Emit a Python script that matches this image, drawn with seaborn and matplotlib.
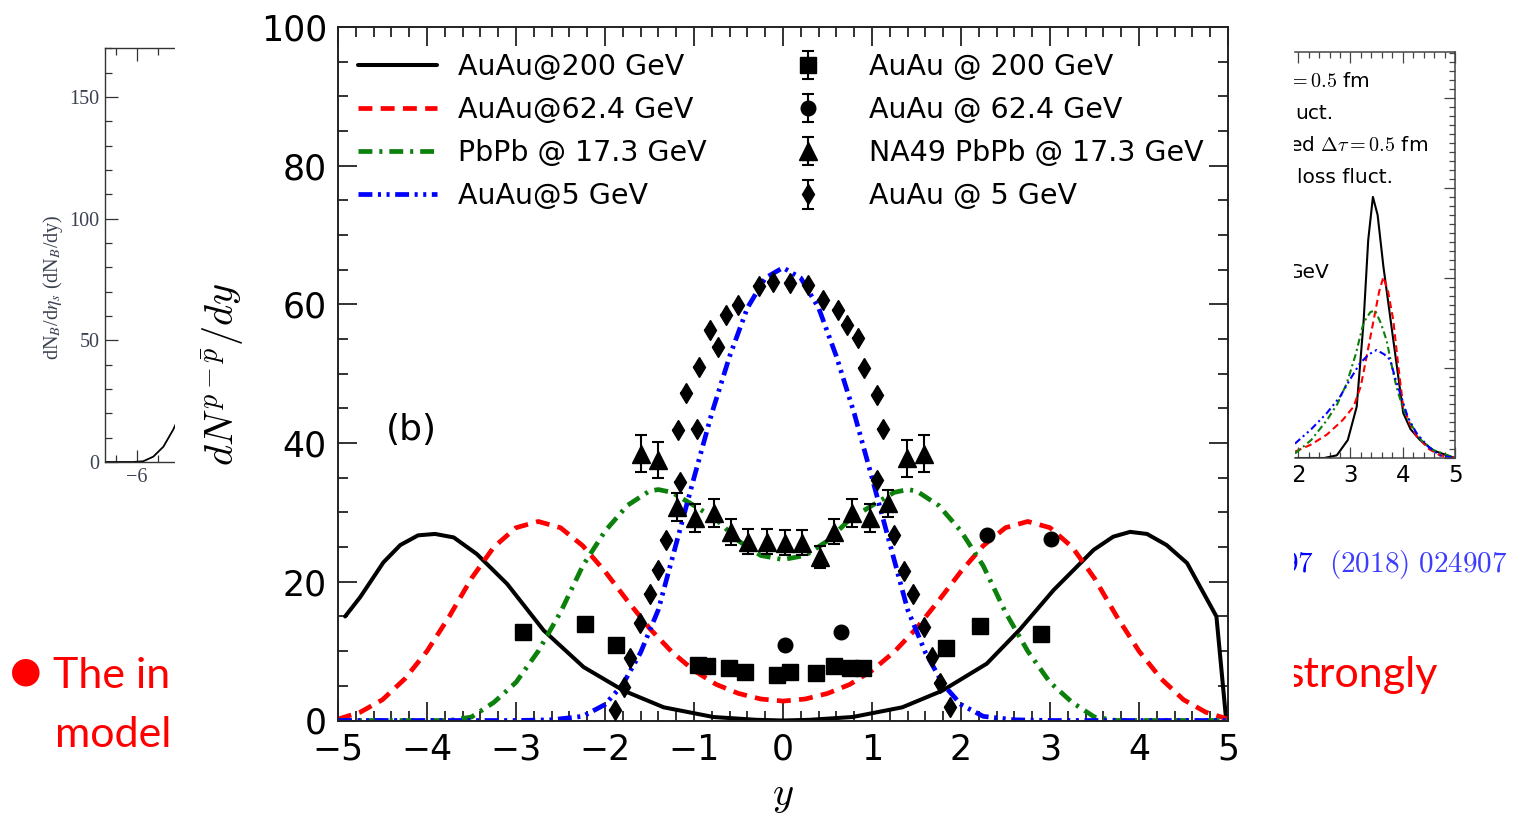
import matplotlib
matplotlib.use("Agg")
import matplotlib.pyplot as plt
from matplotlib.ticker import MultipleLocator
from matplotlib.patches import Rectangle
import seaborn as sns

# ---------------- main panel: model curves ----------------
x_au200 = [-4.92, -4.75, -4.49, -4.30, -4.10, -3.91, -3.70, -3.44, -3.10, -2.69, -2.24, -1.79, -1.34, -0.78, -0.30, 0.0,
           0.30, 0.78, 1.34, 1.79, 2.29, 2.66, 3.04, 3.49, 3.71, 3.90, 4.09, 4.31, 4.54, 4.87, 4.98]
y_au200 = [15.0, 17.8, 22.8, 25.3, 26.7, 26.9, 26.4, 24.0, 19.7, 13.0, 7.7, 4.3, 1.9, 0.5, 0.1, 0.0,
           0.1, 0.5, 1.9, 4.3, 8.2, 13.1, 18.8, 24.6, 26.5, 27.2, 26.9, 25.3, 22.7, 15.0, 0.0]

x_au62 = [-5.0, -4.75, -4.5, -4.25, -4.0, -3.75, -3.5, -3.25, -3.0, -2.75, -2.5, -2.25, -2.0, -1.75, -1.5, -1.25,
          -1.0, -0.75, -0.5, -0.25, 0.0, 0.25, 0.5, 0.75, 1.0, 1.25, 1.5, 1.75, 2.0, 2.25, 2.5, 2.75, 3.0, 3.25,
          3.5, 3.75, 4.0, 4.25, 4.5, 4.75, 5.0]
y_au62 = [0.2, 1.2, 3.0, 6.0, 10.0, 15.0, 20.5, 25.0, 27.8, 28.7, 27.8, 25.2, 21.5, 17.3, 13.3, 9.9,
          7.2, 5.2, 3.9, 3.1, 2.8, 3.1, 3.9, 5.2, 7.2, 9.9, 13.3, 17.3, 21.5, 25.2, 27.8, 28.7, 27.8, 25.0,
          20.5, 15.0, 10.0, 6.0, 3.0, 1.2, 0.2]

x_pb17 = [-5.0, -4.0, -3.75, -3.5, -3.25, -3.0, -2.75, -2.5, -2.25, -2.0, -1.75, -1.5, -1.4, -1.25, -1.0, -0.75,
          -0.5, -0.25, 0.0, 0.25, 0.5, 0.75, 1.0, 1.25, 1.4, 1.5, 1.75, 2.0, 2.25, 2.5, 2.75, 3.0, 3.25, 3.5,
          3.75, 4.0, 5.0]
y_pb17 = [0.0, 0.0, 0.0, 0.5, 2.6, 5.5, 10.0, 15.6, 22.3, 27.3, 31.0, 33.1, 33.3, 32.9, 31.0, 29.0,
          25.9, 23.8, 23.2, 23.8, 25.9, 29.0, 31.0, 32.9, 33.3, 33.1, 31.0, 27.3, 22.3, 15.6, 10.0, 5.5, 2.6, 0.5,
          0.0, 0.0, 0.0]

x_au5 = [-5.0, -3.0, -2.6, -2.25, -2.0, -1.8, -1.6, -1.4, -1.2, -1.0, -0.8, -0.6, -0.4, -0.2, 0.0,
         0.2, 0.4, 0.6, 0.8, 1.0, 1.2, 1.4, 1.6, 1.8, 2.0, 2.25, 2.6, 3.0, 5.0]
y_au5 = [0.0, 0.0, 0.1, 0.6, 2.3, 5.2, 9.8, 16.0, 25.5, 35.0, 44.3, 52.5, 59.5, 63.8, 65.3,
         63.8, 59.5, 52.5, 44.3, 35.0, 25.5, 16.0, 9.8, 5.2, 2.3, 0.6, 0.1, 0.0, 0.0]

# ---------------- main panel: data points ----------------
xd_au200 = [-2.92, -2.22, -1.88, -0.95, -0.85, -0.61, -0.43, -0.07, 0.08, 0.37, 0.57, 0.75, 0.90, 1.83, 2.21, 2.90]
yd_au200 = [12.7, 13.9, 10.9, 8.0, 7.9, 7.5, 7.0, 6.6, 7.0, 6.8, 7.8, 7.6, 7.6, 10.4, 13.6, 12.5]
ed_au200 = [0.0] * 16

xd_au62 = [0.02, 0.65, 2.29, 3.01]
yd_au62 = [10.9, 12.7, 26.8, 26.2]
ed_au62 = [0.0] * 4

xd_na49 = [-1.59, -1.40, -1.19, -0.99, -0.78, -0.58, -0.39, -0.18, 0.02, 0.21, 0.42, 0.57, 0.77, 0.98, 1.18, 1.39, 1.58]
yd_na49 = [38.5, 37.6, 30.8, 29.2, 29.9, 27.2, 25.8, 25.8, 25.6, 25.6, 23.6, 27.2, 29.9, 29.2, 31.3, 37.8, 38.5]
ed_na49 = [2.6, 2.6, 2.0, 2.0, 2.0, 1.9, 1.8, 1.8, 1.8, 1.8, 1.6, 1.8, 2.0, 2.0, 2.0, 2.7, 2.6]

xd_au5 = [-1.89, -1.79, -1.72, -1.61, -1.49, -1.40, -1.31, -1.18, -1.16, -1.09, -0.97, -0.94, -0.82, -0.73, -0.64,
          -0.51, -0.27, -0.11, 0.08, 0.28, 0.45, 0.62, 0.72, 0.84, 0.91, 1.06, 1.06, 1.12, 1.25, 1.36, 1.46, 1.58,
          1.67, 1.76, 1.88]
yd_au5 = [1.5, 4.9, 9.0, 14.0, 18.3, 21.7, 26.0, 41.9, 34.4, 47.2, 42.1, 51.0, 56.3, 53.9, 58.5,
          59.9, 62.6, 63.3, 63.1, 62.8, 60.7, 59.2, 57.0, 55.1, 50.9, 46.9, 34.7, 42.0, 26.8, 21.5, 18.2, 13.5,
          9.2, 5.4, 2.0]
ed_au5 = [0.0] * len(xd_au5)

line_labels = ["AuAu@200 GeV", "AuAu@62.4 GeV", "PbPb @ 17.3 GeV", "AuAu@5 GeV"]
data_labels = ["AuAu @ 200 GeV", "AuAu @ 62.4 GeV", "NA49 PbPb @ 17.3 GeV", "AuAu @ 5 GeV"]

# ---------------- side panels (partly hidden) ----------------
left_x = [-6.76, -6.3, -6.09, -5.85, -5.61, -5.37, -5.14, -5.05]
left_y = [0.0, 0.0, 0.0, 0.3, 2.2, 6.3, 13.2, 16.5]

r_black_x = [1.94, 2.5, 2.74, 2.95, 3.12, 3.25, 3.34, 3.43, 3.52, 3.63, 3.82, 4.01, 4.15, 4.33, 4.6, 5.0]
r_black_y = [0.0, 0.0, 0.03, 0.2, 0.57, 1.5, 2.42, 2.9, 2.7, 2.13, 1.31, 0.5, 0.32, 0.2, 0.08, 0.0]
r_red_x = [1.94, 2.25, 2.55, 2.85, 3.06, 3.2, 3.31, 3.45, 3.55, 3.63, 3.72, 3.82, 3.92, 4.01, 4.15, 4.27, 4.5, 4.71, 5.0]
r_red_y = [0.07, 0.15, 0.26, 0.42, 0.57, 0.8, 1.13, 1.55, 1.85, 2.01, 1.85, 1.53, 1.0, 0.57, 0.36, 0.24, 0.1, 0.03, 0.0]
r_green_x = [1.94, 2.25, 2.55, 2.75, 2.93, 3.1, 3.25, 3.38, 3.47, 3.58, 3.69, 3.8, 3.88, 4.0, 4.14, 4.35, 4.58, 5.0]
r_green_y = [0.05, 0.2, 0.42, 0.6, 0.83, 1.15, 1.5, 1.62, 1.64, 1.5, 1.31, 1.0, 0.79, 0.56, 0.39, 0.2, 0.09, 0.0]
r_blue_x = [1.94, 2.25, 2.55, 2.8, 2.99, 3.18, 3.35, 3.5, 3.65, 3.76, 3.85, 3.95, 4.1, 4.27, 4.5, 4.71, 5.0]
r_blue_y = [0.16, 0.32, 0.5, 0.68, 0.87, 1.05, 1.15, 1.2, 1.15, 1.09, 0.9, 0.72, 0.45, 0.27, 0.12, 0.03, 0.0]

sns.set_style("ticks")
plt.rcParams["font.family"] = ["DejaVu Sans"]
plt.rcParams["lines.scale_dashes"] = False
plt.rcParams["axes.unicode_minus"] = True
for k in ["text.color", "axes.labelcolor", "xtick.color", "ytick.color", "axes.edgecolor"]:
    plt.rcParams[k] = "black"

W, H = 1518, 816
fig = plt.figure(figsize=(W / 100, H / 100), dpi=100)
fig.patch.set_facecolor("white")


def fx(px):
    return px / W


def fy(py):
    return 1 - py / H


RED = "#ff0000"
GREEN = "#0b800b"
BLUE = "#0000ff"
SIDE = "#3a4150"

# ---------- left partial panel ----------
axL = fig.add_axes([fx(105), fy(462), (176 - 105) / W, (462 - 48) / H], zorder=0)
sns.lineplot(x=left_x, y=left_y, ax=axL, color="black", linewidth=1.3, errorbar=None)
axL.set_xlim(-6.76, -5.07)
axL.set_ylim(0, 170.2)
axL.spines["right"].set_visible(False)
for s in ["left", "top", "bottom"]:
    axL.spines[s].set_linewidth(1.0)
    axL.spines[s].set_color("#333333")
axL.xaxis.set_major_locator(MultipleLocator(1))
axL.xaxis.set_minor_locator(MultipleLocator(0.5))
axL.yaxis.set_major_locator(MultipleLocator(50))
axL.yaxis.set_minor_locator(MultipleLocator(10))
axL.tick_params(which="both", direction="in", top=True, right=False, color="#333333", width=0.9,
                labelsize=14.5, labelcolor=SIDE, labelfontfamily="Liberation Serif", pad=4)
axL.tick_params(which="major", length=9)
axL.tick_params(which="minor", length=5)
axL.set_ylabel(r"dN$_B$/d$\eta_s$ (dN$_B$/dy)", fontsize=14.5, color=SIDE,
               fontfamily="Liberation Serif", math_fontfamily="stix")
axL.yaxis.set_label_coords(-0.56, 0.423)
axL.set_xlabel("")

# ---------- right partial panel ----------
axR = fig.add_axes([fx(1295), fy(458), (1455 - 1295) / W, (458 - 52) / H], zorder=0)
sns.lineplot(x=r_black_x, y=r_black_y, ax=axR, color="black", linewidth=1.5, errorbar=None)
sns.lineplot(x=r_red_x, y=r_red_y, ax=axR, color=RED, linewidth=1.5, errorbar=None, linestyle=(0, (5, 3)))
sns.lineplot(x=r_green_x, y=r_green_y, ax=axR, color=GREEN, linewidth=1.5, errorbar=None,
             linestyle=(0, (5, 2.5, 1.5, 2.5)))
sns.lineplot(x=r_blue_x, y=r_blue_y, ax=axR, color=BLUE, linewidth=1.5, errorbar=None,
             linestyle=(0, (5, 2.5, 1.5, 2.5, 1.5, 2.5)))
axR.set_xlim(1.94, 5.0)
axR.set_ylim(0, 4.51)
axR.spines["left"].set_visible(False)
for s in ["right", "top", "bottom"]:
    axR.spines[s].set_linewidth(1.1)
    axR.spines[s].set_color("#444444")
axR.xaxis.set_major_locator(MultipleLocator(1))
axR.xaxis.set_minor_locator(MultipleLocator(0.2))
axR.yaxis.set_major_locator(MultipleLocator(1))
axR.yaxis.set_minor_locator(MultipleLocator(0.1))
axR.tick_params(which="both", direction="in", top=True, right=True, left=False, labelleft=False,
                color="#444444", width=0.9, labelsize=16.5, pad=4)
axR.tick_params(which="major", length=8)
axR.tick_params(which="minor", length=4)
axR.set_xlabel("")
axR.set_ylabel("")

# fragments of the right panel legend
for txt, px, py in [(r"$=0.5$ fm", 1288, 87), ("uct.", 1295, 119), (r"ed $\Delta\tau=0.5$ fm", 1289, 151),
                    ("loss fluct.", 1297, 183), ("GeV", 1288, 278)]:
    fig.text(fx(px), fy(py), txt, fontsize=14.5, va="baseline", ha="left", math_fontfamily="cm", zorder=0.3)

# slide text fragments
fig.text(fx(26), fy(672), "\u25cf", fontsize=26, color=RED, ha="center", va="center",
         family=["DejaVu Sans"], zorder=0.3)
fig.text(fx(53), fy(688), "The in", fontsize=31, color=RED, family=["Lato", "DejaVu Sans"],
         va="baseline", zorder=0.3)
fig.text(fx(55), fy(747), "model", fontsize=31, color=RED, family=["Lato", "DejaVu Sans"],
         va="baseline", zorder=0.3)
fig.text(fx(1286), fy(687), "strongly", fontsize=31, color=RED, family=["Lato", "DejaVu Sans"],
         va="baseline", zorder=0.3)
fig.text(fx(1314), fy(572), r"$\mathbf{97}$", fontsize=21, color=BLUE, ha="right", va="baseline",
         math_fontfamily="cm", zorder=0.3)
fig.text(fx(1508), fy(572), r"$\mathrm{(2018)\ 024907}$", fontsize=21, color="#3c3cff", ha="right",
         va="baseline", math_fontfamily="cm", zorder=0.3)

# white backdrop of the central chart
fig.add_artist(Rectangle((fx(175), 0), (1294 - 175) / W, 1, transform=fig.transFigure,
                         facecolor="white", edgecolor="none", zorder=0.5))

# ---------- main panel ----------
ax = fig.add_axes([fx(338), fy(720.5), 890 / W, 693.5 / H], zorder=2)
ax.set_facecolor("white")

sns.lineplot(x=x_au200, y=y_au200, ax=ax, color="black", linewidth=2.9, errorbar=None, sort=False)
sns.lineplot(x=x_au62, y=y_au62, ax=ax, color=RED, linewidth=3.4, errorbar=None, sort=False,
             linestyle=(0, (10, 6)))
sns.lineplot(x=x_pb17, y=y_pb17, ax=ax, color=GREEN, linewidth=3.4, errorbar=None, sort=False,
             linestyle=(0, (10, 5, 2.2, 5)))
sns.lineplot(x=x_au5, y=y_au5, ax=ax, color=BLUE, linewidth=3.4, errorbar=None, sort=False,
             linestyle=(0, (10, 4, 2.2, 4, 2.2, 4)))
line_handles = list(ax.lines[:4])

eb_kw = dict(color="black", ecolor="black", elinewidth=1.5, capsize=4.5, capthick=1.5, linestyle="none", zorder=4)
h1 = ax.errorbar(xd_au200, yd_au200, yerr=ed_au200, fmt="s", ms=11, **eb_kw)
h2 = ax.errorbar(xd_au62, yd_au62, yerr=ed_au62, fmt="o", ms=10.5, **eb_kw)
h3 = ax.errorbar(xd_na49, yd_na49, yerr=ed_na49, fmt="^", ms=13, **eb_kw)
h4 = ax.errorbar(xd_au5, yd_au5, yerr=ed_au5, fmt="d", ms=10.5, **eb_kw)

ax.set_xlim(-5, 5)
ax.set_ylim(0, 100)
ax.xaxis.set_major_locator(MultipleLocator(1))
ax.xaxis.set_minor_locator(MultipleLocator(0.2))
ax.yaxis.set_major_locator(MultipleLocator(20))
ax.yaxis.set_minor_locator(MultipleLocator(5))
ax.tick_params(which="both", direction="in", top=True, right=True, color="#222222", width=1.3,
               labelsize=25, labelcolor="black")
ax.tick_params(which="major", length=13.5)
ax.tick_params(which="minor", length=7)
ax.tick_params(axis="x", pad=9)
ax.tick_params(axis="y", pad=8)
for s in ax.spines.values():
    s.set_linewidth(1.4)
    s.set_color("#222222")

ax.set_ylabel(r"$dN^{p-\bar{p}}/dy$", fontsize=29, math_fontfamily="cm")
ax.yaxis.set_label_coords(-0.103, 0.5)
ax.set_xlabel(r"$y$", fontsize=29, math_fontfamily="cm")
ax.xaxis.set_label_coords(0.5, -0.078)

ax.text(0.082, 0.419, "(b)", transform=ax.transAxes, fontsize=26, ha="center", va="center")

ax.legend(line_handles + [h1, h2, h3, h4], line_labels + data_labels, ncol=2, loc="upper left",
          bbox_to_anchor=(fx(358), fy(53)), bbox_transform=fig.transFigure, frameon=False,
          fontsize=20.5, handlelength=2.77, handletextpad=0.75, columnspacing=2.16, labelspacing=0.53,
          borderpad=0, borderaxespad=0)

fig.savefig("out.png", dpi=100, facecolor="white")
